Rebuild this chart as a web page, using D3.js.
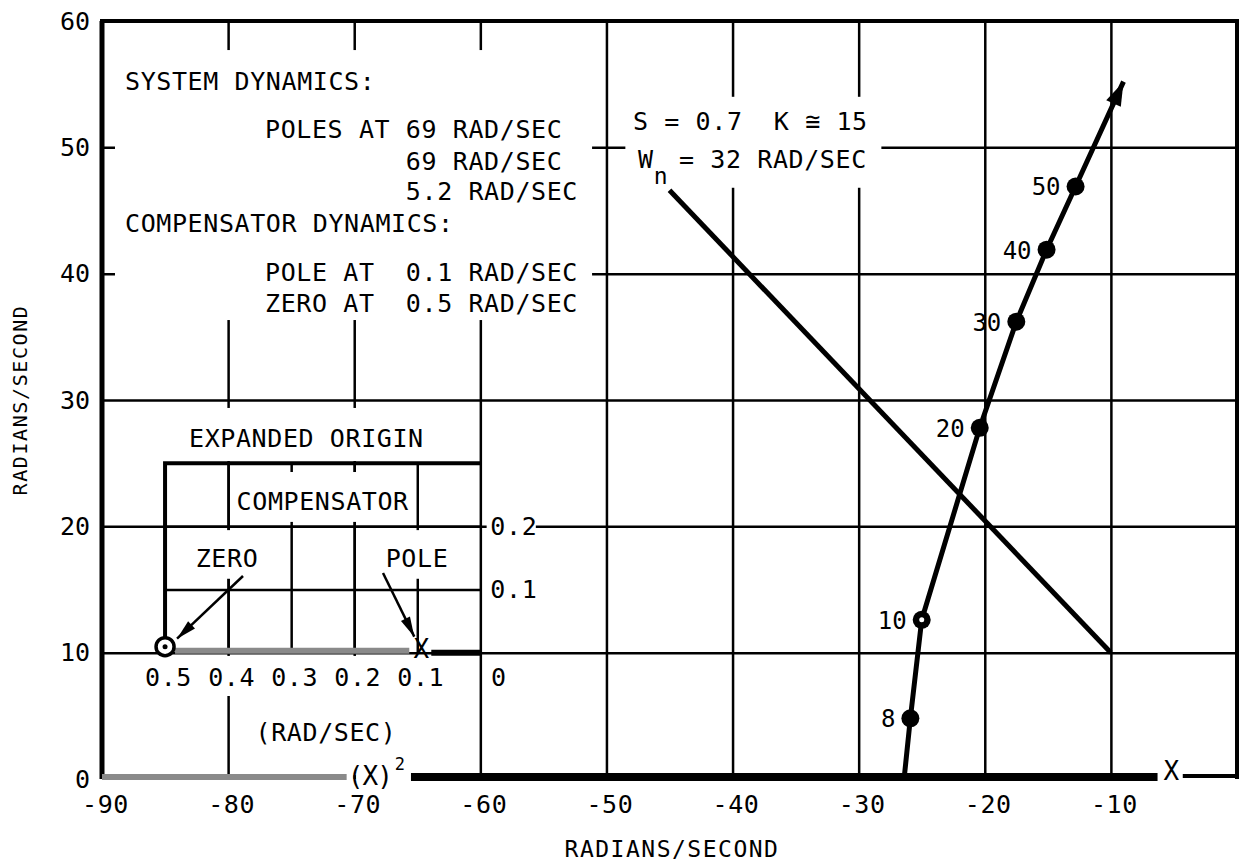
<!DOCTYPE html>
<html>
<head>
<meta charset="utf-8">
<script src="https://cdn.jsdelivr.net/npm/d3@7"></script>
<style>
  body { margin: 0; background: #fff; }
  svg { display: block; background: #fff; }
  text { font-family: "DejaVu Sans Mono", monospace; fill: #000; white-space: pre; }
</style>
</head>
<body>
<svg id="chart" width="1239" height="867"></svg>
<script>
// axis ticks
var xTicks = [-90, -80, -70, -60, -50, -40, -30, -20, -10];
var yTicks = [0, 10, 20, 30, 40, 50, 60];

// root locus branch, gain marks
var gains  = [8, 10, 20, 30, 40, 50];
var gainRe = [-25.9, -25.0, -20.4, -17.5, -15.1, -12.8];
var gainIm = [4.8, 12.6, 27.8, 36.2, 41.9, 46.9];
var locusStart = [-26.4, 0];
var locusEnd = [-9.0, 55.2];

// constant damping line (S = 0.7)
var zetaLine = [[-10, 10], [-45, 46.6]];

// open loop poles on the real axis
var doublePole = -69;
var singlePole = -5.2;

// expanded origin inset
var insetXTicks = [0.5, 0.4, 0.3, 0.2, 0.1, 0];
var insetYTicks = [0.1, 0.2];
var compZero = 0.5;
var compPole = 0.1;

var notes = ["SYSTEM DYNAMICS:", "POLES AT 69 RAD/SEC", "         69 RAD/SEC", "         5.2 RAD/SEC",
             "COMPENSATOR DYNAMICS:", "POLE AT  0.1 RAD/SEC", "ZERO AT  0.5 RAD/SEC"];

function draw() {
  var svg = d3.select("#chart");

  var x = d3.scaleLinear().domain([-90, 0]).range([102, 1237]);
  var y = d3.scaleLinear().domain([0, 60]).range([779, 21]);
  var xi = d3.scaleLinear().domain([0, 0.5]).range([x(-60), x(-85)]);
  var yi = d3.scaleLinear().domain([0, 0.3]).range([y(10), y(25)]);

  // main grid
  svg.append("g")
    .attr("transform", "translate(0," + y(0) + ")")
    .call(d3.axisBottom(x).tickValues(xTicks.slice(1)).tickSize(-(y(0) - y(60))).tickFormat(""))
    .call(function(g) { g.select(".domain").remove(); })
    .selectAll("line").attr("stroke", "#000").attr("stroke-width", 2.5);
  svg.append("g")
    .attr("transform", "translate(" + x(-90) + ",0)")
    .call(d3.axisRight(y).tickValues(yTicks.filter(function(v) { return v > 0 && v < 60; }))
      .tickSize(x(0) - x(-90)).tickFormat(""))
    .call(function(g) { g.select(".domain").remove(); })
    .selectAll("line").attr("stroke", "#000").attr("stroke-width", 2.5);

  // inset grid
  svg.append("g")
    .attr("transform", "translate(0," + yi(0) + ")")
    .call(d3.axisBottom(xi).tickValues(insetXTicks.slice(1, 5)).tickSize(-(yi(0) - yi(0.3))).tickFormat(""))
    .call(function(g) { g.select(".domain").remove(); })
    .selectAll("line").attr("stroke", "#000").attr("stroke-width", 2.5);
  svg.append("g")
    .attr("transform", "translate(" + xi(0.5) + ",0)")
    .call(d3.axisRight(yi).tickValues(insetYTicks).tickSize(xi(0) - xi(0.5)).tickFormat(""))
    .call(function(g) { g.select(".domain").remove(); })
    .selectAll("line").attr("stroke", "#000").attr("stroke-width", 2.5);

  // white boxes behind the lettering (in axis units)
  var masks = [
    [-88.97, 57.7, -51.14, 36.33],   // dynamics notes
    [-48.5, 54.0, -28.2, 46.8],      // S / K / Wn note
    [-88.97, 29.37, -60.75, 25.17],  // EXPANDED ORIGIN
    [-79.6, 24.3, -65.2, 20.35],     // COMPENSATOR
    [-83.0, 19.7, -77.2, 15.85],     // ZERO
    [-67.9, 19.7, -62.3, 15.85],     // POLE
    [-86.2, 9.74, -60.75, 6.57],     // inset tick labels
    [-78.3, 6.57, -65.6, 0.3],       // (RAD/SEC), (X)2
    [-59.5, 21.0, -55.6, 19.1],      // 0.2
    [-23.7, 39.6, -21.0, 34.8]       // gain label 30
  ];
  svg.append("g").selectAll("rect").data(masks).enter().append("rect")
    .attr("x", function(d) { return x(d[0]); })
    .attr("y", function(d) { return y(d[1]); })
    .attr("width", function(d) { return x(d[2]) - x(d[0]); })
    .attr("height", function(d) { return y(d[3]) - y(d[1]); })
    .attr("fill", "#fff");

  // frame
  svg.append("path")
    .attr("d", "M" + x(-90) + "," + y(0) + "V" + y(60))
    .attr("stroke", "#000").attr("stroke-width", 5).attr("fill", "none");
  svg.append("path")
    .attr("d", "M" + (x(-90) - 2) + "," + y(60) + "H" + x(0) + "V" + y(0))
    .attr("stroke", "#000").attr("stroke-width", 4).attr("fill", "none");

  // inset border
  svg.append("path")
    .attr("d", "M" + xi(0.5) + "," + yi(0) + "V" + yi(0.3) + "H" + xi(0))
    .attr("stroke", "#000").attr("stroke-width", 4).attr("fill", "none");

  // real axis
  svg.append("line")
    .attr("x1", x(-90)).attr("x2", x(doublePole - 1.6)).attr("y1", y(0) - 2).attr("y2", y(0) - 2)
    .attr("stroke", "#8a8a8a").attr("stroke-width", 6);
  svg.append("line")
    .attr("x1", x(doublePole + 3.5)).attr("x2", x(singlePole - 1.1)).attr("y1", y(0) - 2).attr("y2", y(0) - 2)
    .attr("stroke", "#000").attr("stroke-width", 8);
  svg.append("line")
    .attr("x1", x(singlePole + 0.9)).attr("x2", x(0)).attr("y1", y(0) - 3).attr("y2", y(0) - 3)
    .attr("stroke", "#000").attr("stroke-width", 4);

  // inset real axis
  svg.append("line")
    .attr("x1", xi(compZero) + 10).attr("x2", xi(compPole) - 8).attr("y1", yi(0) - 2).attr("y2", yi(0) - 2)
    .attr("stroke", "#8a8a8a").attr("stroke-width", 6);
  svg.append("line")
    .attr("x1", xi(compPole) + 14).attr("x2", xi(0)).attr("y1", yi(0)).attr("y2", yi(0))
    .attr("stroke", "#000").attr("stroke-width", 6);

  // damping line
  svg.append("line")
    .attr("x1", x(zetaLine[0][0])).attr("y1", y(zetaLine[0][1]))
    .attr("x2", x(zetaLine[1][0])).attr("y2", y(zetaLine[1][1]))
    .attr("stroke", "#000").attr("stroke-width", 5);

  // locus branch
  var pts = [locusStart].concat(gainRe.map(function(r, i) { return [r, gainIm[i]]; })).concat([locusEnd]);
  var line = d3.line().x(function(d) { return x(d[0]); }).y(function(d) { return y(d[1]); });
  svg.append("path").attr("d", line(pts))
    .attr("stroke", "#000").attr("stroke-width", 5).attr("fill", "none");

  // arrow head at the end of the branch
  var prev = pts[pts.length - 2];
  var ang = Math.atan2(y(locusEnd[1]) - y(prev[1]), x(locusEnd[0]) - x(prev[0]));
  var tx = x(locusEnd[0]), ty = y(locusEnd[1]);
  var bx = tx - 24 * Math.cos(ang), by = ty - 24 * Math.sin(ang);
  var px = -Math.sin(ang) * 8, py = Math.cos(ang) * 8;
  svg.append("path")
    .attr("d", "M" + tx + "," + ty + "L" + (bx + px) + "," + (by + py) + "L" + (bx - px) + "," + (by - py) + "Z")
    .attr("fill", "#000");

  // gain marks
  var marks = svg.append("g").selectAll("g").data(gains).enter().append("g")
    .attr("transform", function(d, i) { return "translate(" + x(gainRe[i]) + "," + y(gainIm[i]) + ")"; });
  marks.append("circle").attr("r", 9).attr("fill", "#000");
  marks.filter(function(d) { return d === 10; }).append("circle").attr("r", 2.5).attr("fill", "#fff");
  marks.append("text")
    .attr("x", -15).attr("y", 9)
    .attr("text-anchor", "end")
    .attr("font-size", 24)
    .text(function(d) { return d; });

  // tick labels
  svg.append("g")
    .attr("transform", "translate(3," + y(0) + ")")
    .call(d3.axisBottom(x).tickValues(xTicks).tickSize(0).tickPadding(16).tickFormat(function(d) { return "-" + Math.abs(d); }))
    .call(function(g) { g.select(".domain").remove(); })
    .attr("font-family", null).attr("font-size", 25).attr("letter-spacing", 0.6);
  svg.append("g")
    .attr("transform", "translate(" + x(-90) + ",0)")
    .call(d3.axisLeft(y).tickValues(yTicks).tickSize(0).tickPadding(12))
    .call(function(g) { g.select(".domain").remove(); })
    .attr("font-family", null).attr("font-size", 25);

  // inset tick labels
  svg.append("g")
    .attr("transform", "translate(3," + yi(0) + ")")
    .call(d3.axisBottom(xi).tickValues(insetXTicks).tickSize(0).tickPadding(16).tickFormat(function(d) { return d === 0 ? "0" : d3.format(".1f")(d); }))
    .call(function(g) { g.select(".domain").remove(); })
    .attr("font-family", null).attr("font-size", 25).attr("letter-spacing", 0.6)
    .selectAll(".tick").filter(function(d) { return d === 0; }).select("text").attr("x", 15);
  svg.append("g")
    .attr("transform", "translate(" + (xi(0) + 10) + ",0)")
    .call(d3.axisRight(yi).tickValues(insetYTicks).tickSize(0).tickPadding(0).tickFormat(d3.format(".1f")))
    .call(function(g) { g.select(".domain").remove(); })
    .attr("font-family", null).attr("font-size", 25).attr("letter-spacing", 0.6);

  // axis titles
  svg.append("text")
    .attr("transform", "translate(27,400) rotate(-90)")
    .attr("text-anchor", "middle").attr("font-size", 20).attr("letter-spacing", 1.6)
    .text("RADIANS/SECOND");
  svg.append("text")
    .attr("x", 672).attr("y", 857)
    .attr("text-anchor", "middle").attr("font-size", 23).attr("letter-spacing", 1.5)
    .text("RADIANS/SECOND");

  // dynamics notes
  var noteX = [125, 265, 265, 265, 125, 265, 265];
  var noteY = [90, 138, 170, 200, 232, 281, 312];
  svg.append("g").selectAll("text").data(notes).enter().append("text")
    .attr("x", function(d, i) { return noteX[i]; })
    .attr("y", function(d, i) { return noteY[i]; })
    .attr("xml:space", "preserve")
    .attr("font-size", 25).attr("letter-spacing", 0.6)
    .text(function(d) { return d; });

  // damping note
  svg.append("text").attr("x", 633).attr("y", 130).attr("xml:space", "preserve")
    .attr("font-size", 25).attr("letter-spacing", 0.6)
    .text("S = 0.7  K \u2245 15");
  var wn = svg.append("text").attr("x", 638).attr("y", 168).attr("font-size", 25).attr("letter-spacing", 0.6);
  wn.append("tspan").text("W");
  wn.append("tspan").attr("dy", 16).attr("font-size", 23).text("n");
  wn.append("tspan").attr("x", 679).attr("dy", -16).attr("xml:space", "preserve").text("= 32 RAD/SEC");

  // inset lettering
  svg.append("text").attr("x", 189).attr("y", 447).attr("xml:space", "preserve")
    .attr("font-size", 25).attr("letter-spacing", 0.6).text("EXPANDED ORIGIN");
  svg.append("text").attr("x", (xi(0.4) + xi(0.1)) / 2).attr("y", 510).attr("text-anchor", "middle")
    .attr("font-size", 25).attr("letter-spacing", 0.6).text("COMPENSATOR");
  svg.append("text").attr("x", 227).attr("y", 567).attr("text-anchor", "middle")
    .attr("font-size", 25).attr("letter-spacing", 0.6).text("ZERO");
  svg.append("text").attr("x", 417).attr("y", 567).attr("text-anchor", "middle")
    .attr("font-size", 25).attr("letter-spacing", 0.6).text("POLE");
  svg.append("text").attr("x", 326).attr("y", 741).attr("text-anchor", "middle")
    .attr("font-size", 25).attr("letter-spacing", 0.6).text("(RAD/SEC)");

  // pole / zero symbols
  svg.append("text").attr("x", x(doublePole) + 25).attr("y", y(0) + 6).attr("text-anchor", "end")
    .attr("font-size", 26).attr("letter-spacing", -1).text("(X)");
  svg.append("text").attr("x", x(doublePole) + 28).attr("y", y(0) - 9).attr("text-anchor", "start")
    .attr("font-size", 17).text("2");
  svg.append("text").attr("x", x(singlePole)).attr("y", y(0) + 1).attr("text-anchor", "middle")
    .attr("font-size", 26).text("X");
  svg.append("text").attr("x", xi(compPole) + 4).attr("y", yi(0) + 5).attr("text-anchor", "middle")
    .attr("font-size", 26).text("X");
  svg.append("circle").attr("cx", xi(compZero)).attr("cy", yi(0) - 6).attr("r", 9)
    .attr("fill", "#fff").attr("stroke", "#000").attr("stroke-width", 3.5);
  svg.append("circle").attr("cx", xi(compZero)).attr("cy", yi(0) - 6).attr("r", 2.5).attr("fill", "#000");

  // inset pointers
  function pointer(x1, y1, x2, y2) {
    svg.append("line").attr("x1", x1).attr("y1", y1).attr("x2", x2).attr("y2", y2)
      .attr("stroke", "#000").attr("stroke-width", 2.5);
    var a = Math.atan2(y2 - y1, x2 - x1);
    var bx = x2 - 20 * Math.cos(a), by = y2 - 20 * Math.sin(a);
    var ox = -Math.sin(a) * 5, oy = Math.cos(a) * 5;
    svg.append("path")
      .attr("d", "M" + x2 + "," + y2 + "L" + (bx + ox) + "," + (by + oy) + "L" + (bx - ox) + "," + (by - oy) + "Z")
      .attr("fill", "#000");
  }
  pointer(243, 576, xi(compZero) + 12, yi(0) - 14);
  pointer(383, 573, xi(compPole) - 3, yi(0) - 16);
}

draw();
</script>
</body>
</html>
